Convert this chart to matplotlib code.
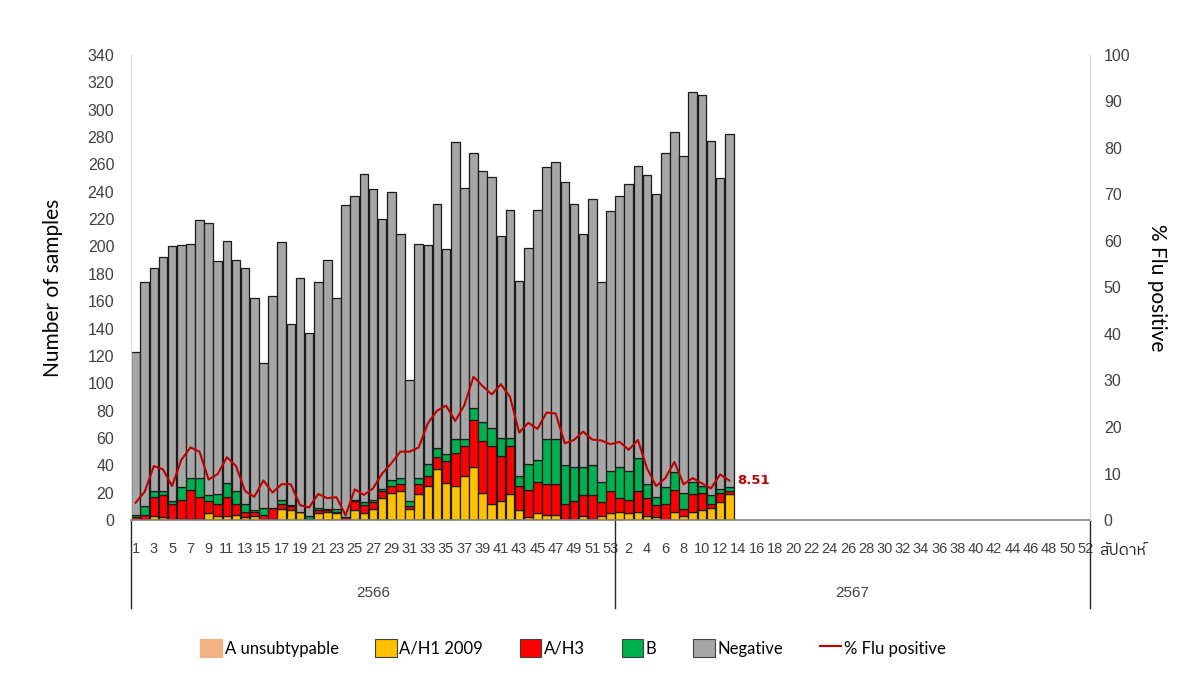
import matplotlib
matplotlib.use("Agg")
import matplotlib.pyplot as plt
from matplotlib import font_manager
from matplotlib.ft2font import FT2Font
from matplotlib.patches import Patch
from matplotlib.lines import Line2D
import numpy as np

# ---- data ----
weeks_2566 = list(range(1, 54))
weeks_2567 = list(range(1, 53))

unsub = [0] * 66
h1 = [0, 1, 3, 2, 0, 1, 1, 1, 5, 3, 3, 4, 2, 3, 1, 1, 8, 7, 6, 1, 5, 6, 5, 1, 7, 5, 8,
      16, 20, 21, 8, 19, 25, 37, 27, 25, 32, 39, 20, 12, 14, 19, 7, 2, 5, 4, 4, 0, 0, 3, 1, 3, 5,
      6, 5, 6, 3, 2, 0, 6, 3, 6, 7, 9, 13, 19]
h3 = [2, 3, 14, 16, 12, 14, 21, 16, 9, 9, 14, 8, 4, 3, 3, 8, 4, 3, 0, 0, 2, 1, 1, 1, 7, 6, 5,
      5, 5, 5, 2, 7, 7, 9, 16, 24, 22, 34, 38, 42, 33, 35, 18, 20, 23, 22, 22, 12, 14, 15, 17, 10, 16,
      10, 10, 15, 13, 9, 12, 16, 5, 13, 13, 3, 7, 2]
flu_b = [2, 6, 4, 3, 2, 9, 9, 14, 4, 7, 10, 9, 6, 1, 5, 0, 3, 1, 0, 2, 2, 1, 2, 0, 1, 2, 2,
         2, 4, 5, 4, 5, 9, 7, 5, 10, 5, 9, 14, 13, 13, 6, 7, 19, 16, 33, 33, 28, 25, 21, 22, 15, 15,
         23, 21, 24, 10, 6, 12, 13, 12, 9, 5, 6, 3, 3]
negative = [119, 164, 163, 171, 186, 177, 171, 188, 199, 170, 177, 169, 172, 155, 106, 155, 188,
            132, 171, 134, 165, 182, 154, 228, 222, 240, 227, 197, 211, 178, 88, 171, 160, 178,
            150, 217, 184, 186, 183, 184, 148, 167, 143, 158, 183, 199, 203, 207, 192, 170, 195,
            146, 190,
            198, 210, 214, 226, 221, 244, 249, 246, 285, 286, 259, 227, 258]
pct_pos = [3.7, 6.1, 11.6, 10.9, 7.3, 12.9, 15.6, 14.7, 8.7, 9.9, 13.5, 11.6, 6.2, 5.0, 8.5,
           5.9, 7.7, 7.7, 3.2, 2.7, 5.6, 4.7, 4.9, 1.0, 6.6, 5.4, 6.8, 10.0, 12.2, 14.7, 14.7,
           15.6, 20.8, 23.5, 24.6, 21.3, 24.7, 30.8, 28.8, 27.0, 29.2, 26.5, 18.8, 20.9, 19.6,
           23.1, 22.9, 16.5, 17.2, 19.0, 17.3, 17.1, 16.3,
           16.8, 15.1, 17.2, 11.1, 7.3, 9.0, 12.5, 7.7, 9.0, 7.9, 6.8, 9.8, 8.51]
last_label = "8.51"
years = ["2566", "2567"]

series = [("A unsubtypable", unsub, "#F4B183"),
          ("A/H1 2009", h1, "#FFC000"),
          ("A/H3", h3, "#FF0000"),
          ("B", flu_b, "#00B050"),
          ("Negative", negative, "#A6A6A6")]
line_color = "#C00000"


def find_font(chars, prefer=()):
    # pick an installed font that has all the given characters
    paths = font_manager.findSystemFonts()
    found = []
    for p in paths:
        try:
            cmap = FT2Font(p).get_charmap()
        except Exception:
            continue
        if all(ord(c) in cmap for c in chars):
            found.append(p)
    if not found:
        return None
    for name in prefer:
        for p in found:
            if name.lower() in p.lower():
                return p
    return found[0]


thai_word = "สัปดาห์"
thai_path = find_font(thai_word, prefer=("Thai", "Tahoma"))
if thai_path:
    font_manager.fontManager.addfont(thai_path)
    thai_family = font_manager.FontProperties(fname=thai_path).get_name()
else:
    thai_family = "DejaVu Sans"

plt.rcParams["font.family"] = ["Liberation Sans", "DejaVu Sans"]

n_slots = len(weeks_2566) + len(weeks_2567)
x = np.arange(len(negative))

fig = plt.figure(figsize=(12.04, 6.75), dpi=100)
ax = fig.add_axes([0.1088, 0.2296, 0.7965, 0.689])

bottom = np.zeros(len(negative))
for name, vals, col in series:
    v = np.array(vals, dtype=float)
    ax.bar(x, v, bottom=bottom, width=0.94, color=col, edgecolor="#1a1a1a",
           linewidth=0.9, zorder=2)
    bottom += v

ax.set_xlim(-0.5, n_slots - 0.5)
ax.set_ylim(0, 340)
ax.set_yticks(range(0, 341, 20))
ax.tick_params(axis="y", length=0, labelsize=11.5, colors="#404040", pad=12)
ax.set_ylabel("Number of samples", fontsize=15, color="#000000",
              family=["Lato", "DejaVu Sans"], labelpad=18)

labels_pos = list(range(0, n_slots, 2))
lbls = []
for p in labels_pos:
    if p < len(weeks_2566):
        lbls.append(str(weeks_2566[p]))
    else:
        lbls.append(str(weeks_2567[p - len(weeks_2566)]))
ax.set_xticks(labels_pos)
ax.set_xticklabels(lbls)
ax.tick_params(axis="x", length=0, labelsize=10.5, colors="#404040", pad=16)

ax.spines["top"].set_visible(False)
ax.spines["left"].set_color("#D9D9D9")
ax.spines["right"].set_color("#D9D9D9")
ax.spines["bottom"].set_color("#7f7f7f")
ax.spines["bottom"].set_linewidth(1.2)

ax2 = ax.twinx()
ax2.set_ylim(0, 100)
ax2.set_yticks(range(0, 101, 10))
ax2.tick_params(axis="y", length=0, labelsize=11.5, colors="#404040", pad=10)
ax2.plot(x[:len(pct_pos)], pct_pos, color=line_color, linewidth=1.5, zorder=3)
ax2.text(len(pct_pos) - 1 + 0.9, pct_pos[-1], last_label, color=line_color,
         fontsize=9.5, fontweight="bold", va="center", ha="left", family="DejaVu Sans")
ax2.set_ylabel("% Flu positive", fontsize=15, rotation=270, labelpad=26,
               family=["Lato", "DejaVu Sans"])
for s in ["top", "left", "bottom"]:
    ax2.spines[s].set_visible(False)
ax2.spines["right"].set_color("#D9D9D9")

# category box under the week labels
trans = ax.get_xaxis_transform()
sep = len(weeks_2566) - 0.5
for xv in [-0.5, sep, n_slots - 0.5]:
    ax.plot([xv, xv], [0, -0.19], color="#262626", linewidth=1.0,
            transform=trans, clip_on=False)
ax.text((-0.5 + sep) / 2, -0.157, years[0], transform=trans, ha="center",
        va="center", fontsize=11, color="#404040")
ax.text((sep + n_slots - 0.5) / 2, -0.157, years[1], transform=trans, ha="center",
        va="center", fontsize=11, color="#404040")
ax.text(n_slots - 0.5 + 1.0, -0.064, thai_word, transform=trans, ha="left",
        va="center", fontsize=11.5, family=[thai_family, "DejaVu Sans"], color="#262626")

handles = [Patch(facecolor=c, edgecolor=("#404040" if n != "A unsubtypable" else c),
                 linewidth=0.8, label=n) for n, v, c in series]
handles.append(Line2D([0], [0], color=line_color, linewidth=1.5, label="% Flu positive"))
fig.legend(handles=handles, loc="center", bbox_to_anchor=(0.476, 0.04), ncol=6,
           frameon=False, handlelength=1.3, handleheight=1.3,
           handletextpad=0.15, columnspacing=2.2, prop={"family": ["Lato", "DejaVu Sans"], "size": 12})

fig.savefig("out.png", dpi=100)
